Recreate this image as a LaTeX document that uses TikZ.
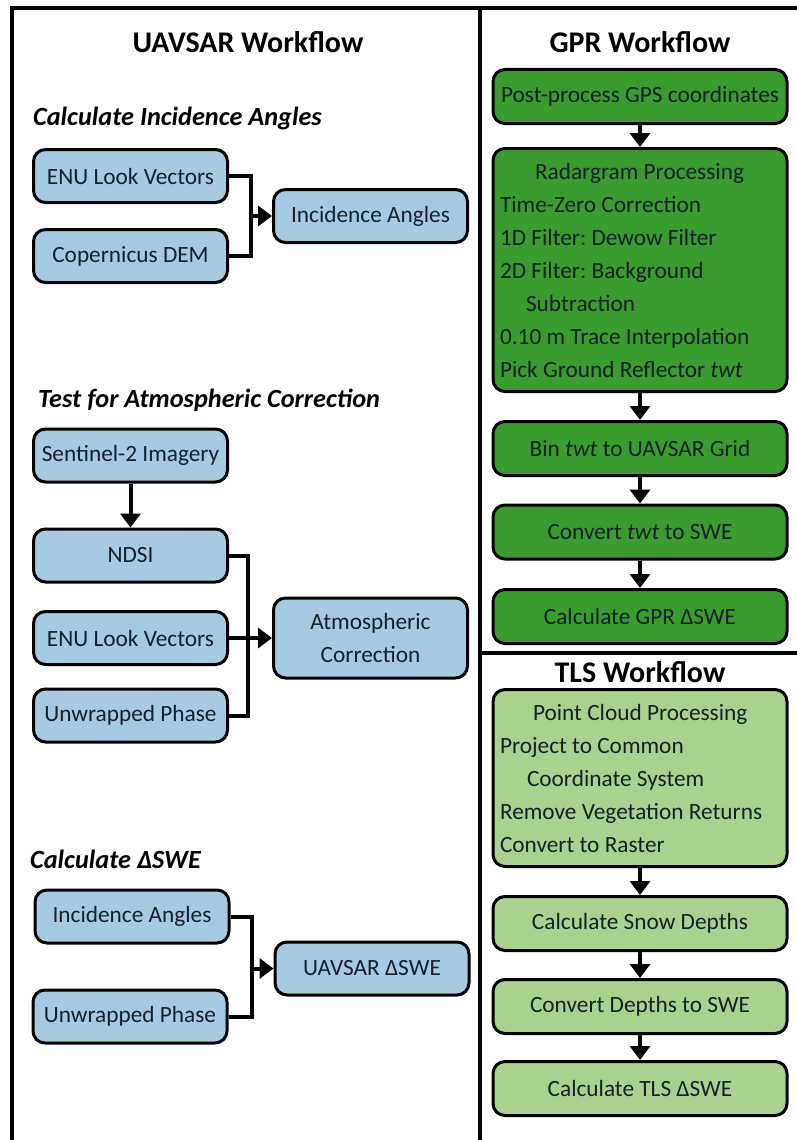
\documentclass[tikz,border=0pt]{standalone}
\usepackage{fontspec}
\setmainfont{Carlito}
\usetikzlibrary{arrows.meta}
\definecolor{uavBlue}{RGB}{166,202,226}
\definecolor{gprGreen}{RGB}{58,155,46}
\definecolor{tlsGreen}{RGB}{169,210,142}
\definecolor{boxText}{RGB}{22,32,42}
\frenchspacing
\tikzset{Box/.style={%
    draw=black,%
    rounded corners=12pt,%
    line width=3pt,%
    inner sep=0pt,%
    text=boxText,%
    font=\fontsize{23.3}{33}\selectfont,%
}}
\tikzset{UavBox/.style={%
    Box,%
    fill=uavBlue,%
    minimum width=194pt,%
    minimum height=53pt,%
    align=center,%
}}
\tikzset{GprBox/.style={%
    Box,%
    fill=gprGreen,%
    minimum width=294pt,%
    minimum height=54pt,%
}}
\tikzset{TlsBox/.style={%
    Box,%
    fill=tlsGreen,%
    minimum width=294pt,%
    minimum height=54pt,%
}}
\tikzset{ListBox/.style={%
    text width=280pt,%
    inner xsep=7pt,%
    align=left,%
}}
\tikzset{Title/.style={%
    font=\bfseries\fontsize{30}{36}\selectfont,%
}}
\tikzset{Heading/.style={%
    anchor=west,%
    inner sep=0pt,%
    font=\bfseries\itshape\fontsize{26.3}{30}\selectfont,%
}}
\tikzset{FrameLine/.style={%
    line width=4pt,%
}}
\tikzset{MergeLine/.style={%
    line width=4pt,%
}}
\tikzset{FlowArrow/.style={%
    line width=4pt,%
    -{Triangle[length=14pt,width=20pt]},%
}}
% plain word spacing inside the list boxes
\newcommand{\plainSpaces}{\spaceskip=0pt\xspaceskip=0pt}

\begin{document}
\begin{tikzpicture}[x=1pt,y=-1pt]
    \useasboundingbox (0,0) rectangle (797,1140);

    % frame
    \draw[FrameLine] (12,8) -- (797,8);
    \draw[FrameLine] (12,6) -- (12,1140);
    \draw[FrameLine] (480,8) -- (480,1140);
    \draw[FrameLine] (480,653) -- (797,653);

    % UAVSAR workflow
    \node[Title] (uavTitle) at (248,42) {UAVSAR Workflow};
    \node[Heading] (incHead) at (33,118) {Calculate Incidence Angles};
    \node[UavBox] (enuA) at (130.5,176) {ENU Look Vectors};
    \node[UavBox] (dem) at (130.5,256) {Copernicus DEM};
    \node[UavBox] (incA) at (370.5,216) {Incidence Angles};
    \coordinate (joinA) at (251,216);

    \node[Heading] (atmHead) at (38,400) {Test for Atmospheric Correction};
    \node[UavBox] (sen) at (130.5,455.5) {Sentinel-2 Imagery};
    \node[UavBox] (ndsi) at (130.5,555.5) {NDSI};
    \node[UavBox] (enuB) at (130.5,638) {ENU Look Vectors};
    \node[UavBox] (unwB) at (130.5,715.5) {Unwrapped Phase};
    \node[UavBox, minimum height=80pt] (atm) at (370.5,638) {Atmospheric\\Correction};
    \coordinate (joinB) at (248,638);

    \node[Heading] (sweHead) at (30,859) {Calculate ΔSWE};
    \node[UavBox] (incC) at (132,916.5) {Incidence Angles};
    \node[UavBox] (unwC) at (130,1016.5) {Unwrapped Phase};
    \node[UavBox] (swe) at (372,968.5) {UAVSAR ΔSWE};
    \coordinate (joinC) at (252,968.5);

    \draw[MergeLine] (enuA.east) -| (joinA);
    \draw[MergeLine] (dem.east) -| (joinA);
    \draw[FlowArrow] (joinA) -- (incA.west);
    \draw[FlowArrow] (sen.south) -- (ndsi.north);
    \draw[MergeLine] (ndsi.east) -| (joinB);
    \draw[MergeLine] (unwB.east) -| (joinB);
    \draw[FlowArrow] (enuB.east) -- (atm.west);
    \draw[MergeLine] (incC.east) -| (joinC);
    \draw[MergeLine] (unwC.east) -| (joinC);
    \draw[FlowArrow] (joinC) -- (swe.west);

    % GPR workflow
    \node[Title] (gprTitle) at (640,42) {GPR Workflow};
    \node[GprBox] (gps) at (640,96.5) {Post-process GPS coordinates};
    \node[GprBox, ListBox, minimum height=243pt] (radar) at (640,270) {\plainSpaces
        \hspace*{35pt}Radargram Processing\\
        Time-Zero Correction\\
        1D Filter: Dewow Filter\\
        2D Filter: Background\\
        \hspace*{26pt}Subtraction\\
        0.10 m Trace Interpolation\\
        Pick Ground Reflector \textit{twt}};
    \node[GprBox] (bin) at (640,448.5) {Bin \textit{twt} to UAVSAR Grid};
    \node[GprBox] (conv) at (640,532) {Convert \textit{twt} to SWE};
    \node[GprBox] (gprSwe) at (640,616.5) {Calculate GPR ΔSWE};

    \draw[FlowArrow] (gps.south) -- (radar.north);
    \draw[FlowArrow] (radar.south) -- (bin.north);
    \draw[FlowArrow] (bin.south) -- (conv.north);
    \draw[FlowArrow] (conv.south) -- (gprSwe.north);

    % TLS workflow
    \node[Title] (tlsTitle) at (640,672) {TLS Workflow};
    \node[TlsBox, ListBox, minimum height=177pt] (cloud) at (640,778) {\plainSpaces
        \hspace*{33pt}Point Cloud Processing\\
        Project to Common\\
        \hspace*{27pt}Coordinate System\\
        Remove Vegetation Returns\\
        Convert to Raster};
    \node[TlsBox] (depth) at (640,923.5) {Calculate Snow Depths};
    \node[TlsBox] (cdepth) at (640,1006.5) {Convert Depths to SWE};
    \node[TlsBox] (tls) at (640,1088.5) {Calculate TLS ΔSWE};

    \draw[FlowArrow] (cloud.south) -- (depth.north);
    \draw[FlowArrow] (depth.south) -- (cdepth.north);
    \draw[FlowArrow] (cdepth.south) -- (tls.north);
\end{tikzpicture}
\end{document}
